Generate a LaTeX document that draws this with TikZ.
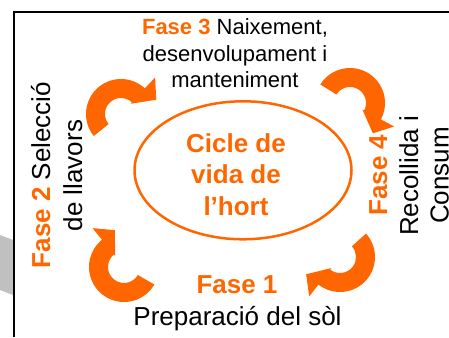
\documentclass[tikz,border=0pt]{standalone}
\usepackage{fontspec}
\setmainfont{Liberation Sans}
\definecolor{fase}{RGB}{255,102,0}
\definecolor{bandgray}{RGB}{192,192,192}
\tikzset{
  lbl/.style={inner sep=0pt, font=\fontsize{26}{31}\selectfont, anchor=base},
  toplbl/.style={lbl, font=\fontsize{22}{26}\selectfont},
  vlbl/.style={lbl, rotate=90},
  hubline/.style={draw=fase, line width=2.5pt},
  cyc/.style={fill=fase},
  framestyle/.style={line width=2pt, black},
}
\newcommand\cyclearrow[4]{%
  \fill[cyc, shift={(#1,#2)}] (#3:35) arc[start angle=#3, end angle=#4, radius=35]
    -- (#4:50) -- ({#4+25}:38) -- (#4:14) -- (#4:16)
    arc[start angle=#4, end angle=#3, radius=16] -- cycle;}
\newcommand\fz[1]{\textcolor{fase}{\bfseries #1}}
\begin{document}
\begin{tikzpicture}[x=1pt, y=-1pt]
\useasboundingbox (0,0) rectangle (449,337);
\fill[bandgray] (0,235) -- (13,240) -- (13,295) -- (0,290) -- cycle;
\draw[framestyle] (14,337) -- (14,12) -- (449,12);
\draw[hubline] (243,170.3) ellipse [x radius=108.5, y radius=69];
% curved arrows
\cyclearrow{121}{114}{141}{313}
\cyclearrow{350}{103}{212}{388}
\cyclearrow{340}{257}{318}{488}
\cyclearrow{124}{267}{30}{231}
% centre
\node[lbl] (c1) at (236,152) {\fz{Cicle de}};
\node[lbl] (c2) at (236,183.5) {\fz{vida de}};
\node[lbl] (c3) at (236,215) {\fz{l’hort}};
% fase 3
\node[toplbl] (t3a) at (235,35) {\fz{Fase 3} Naixement,};
\node[toplbl] (t3b) at (235,61.5) {desenvolupament i};
\node[toplbl] (t3c) at (235,87.5) {manteniment};
% fase 2
\node[vlbl] (t2a) at (50,175) {\fz{Fase 2} Selecció};
\node[vlbl] (t2b) at (82,175.5) {de llavors};
% fase 4
\node[vlbl] (t4a) at (387,175) {\fz{Fase 4}};
\node[vlbl] (t4b) at (418,176) {Recollida i};
\node[vlbl] (t4c) at (448.5,175.5) {Consum};
% fase 1
\node[lbl] (t1a) at (237,293) {\fz{Fase 1}};
\node[lbl] (t1b) at (237.5,325) {Preparació del sòl};
\end{tikzpicture}
\end{document}
